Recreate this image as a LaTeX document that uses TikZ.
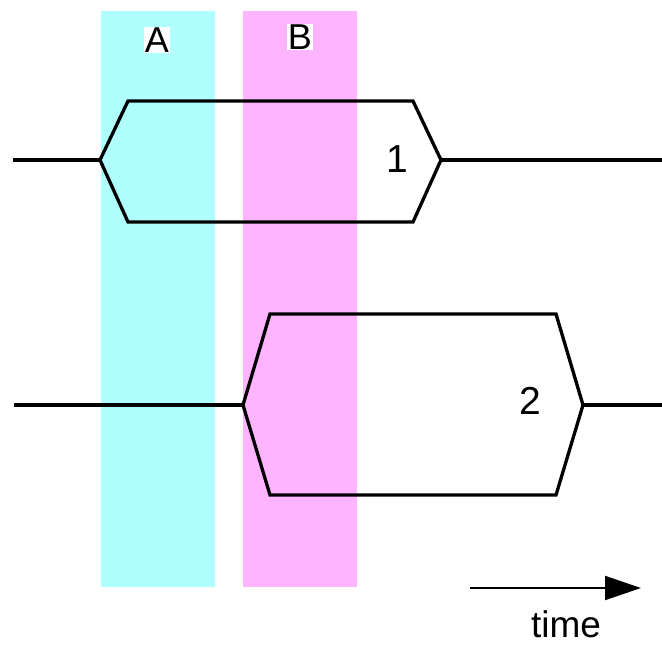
\documentclass[tikz,border=0pt]{standalone}
\usepackage{fontspec}
\setmainfont{Liberation Sans}
\usetikzlibrary{arrows.meta}
\definecolor{bandA}{RGB}{176,255,255}
\definecolor{bandB}{RGB}{255,180,255}
\begin{document}
\begin{tikzpicture}[x=1pt,y=-1pt,
  signal/.style={line width=3.3pt,line join=miter},
  wire/.style={line width=3.3pt},
  tag/.style={fill=white,inner sep=1pt,font=\fontsize{36}{36}\selectfont},
  numlabel/.style={inner sep=0pt,font=\fontsize{39}{39}\selectfont},
  timelabel/.style={inner sep=0pt,font=\fontsize{37}{37}\selectfont}]
  \useasboundingbox (0,0) rectangle (662,645);
  % shaded time windows
  \fill[bandA] (101,11) rectangle (215,587);
  \fill[bandB] (243,11) rectangle (357,587);
  \node[tag] (labA) at (157,40) {A};
  \node[tag] (labB) at (300,37) {B};

  % first signal
  \coordinate (s1in) at (13,160);
  \coordinate (h1w) at (100,160);
  \coordinate (h1nw) at (128,101);
  \coordinate (h1ne) at (413,101);
  \coordinate (h1e) at (441,160);
  \coordinate (h1se) at (413,222);
  \coordinate (h1sw) at (128,222);
  \coordinate (s1out) at (662,160);
  \draw[signal] (h1w) -- (h1nw) -- (h1ne) -- (h1e) -- (h1se) -- (h1sw) -- cycle;
  \draw[wire] (s1in) -- (h1w);
  \draw[wire] (h1e) -- (s1out);
  \node[numlabel] (n1) at (397,159) {1};

  % second signal
  \coordinate (s2in) at (14,405);
  \coordinate (h2w) at (243,405);
  \coordinate (h2nw) at (270,314);
  \coordinate (h2ne) at (556,314);
  \coordinate (h2e) at (583,405);
  \coordinate (h2se) at (556,495);
  \coordinate (h2sw) at (270,495);
  \coordinate (s2out) at (662,405);
  \draw[signal] (h2w) -- (h2nw) -- (h2ne) -- (h2e) -- (h2se) -- (h2sw) -- cycle;
  \draw[wire] (s2in) -- (h2w);
  \draw[wire] (h2e) -- (s2out);
  \node[numlabel] (n2) at (530,401) {2};

  % time axis
  \coordinate (t0) at (470,588);
  \coordinate (t1) at (641,588);
  \draw[line width=2pt,-{Triangle[length=36pt,width=24pt]}] (t0) -- (t1);
  \node[timelabel] (tl) at (566,624) {time};
\end{tikzpicture}
\end{document}
